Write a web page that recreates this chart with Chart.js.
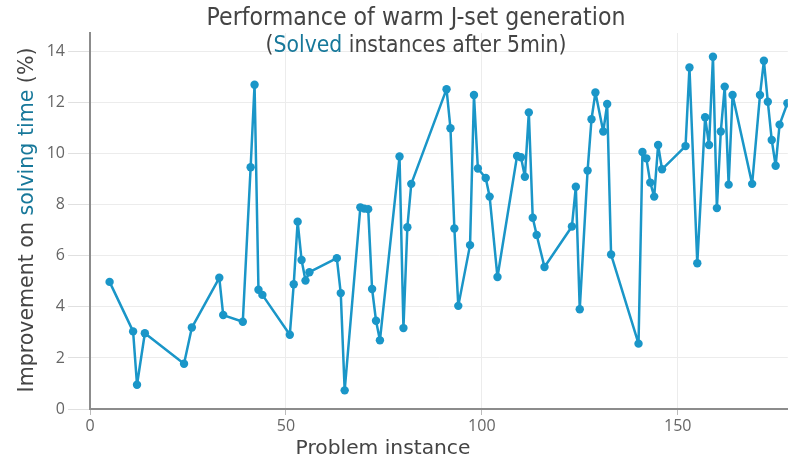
<!DOCTYPE html>
<html>
<head>
<meta charset="utf-8">
<script src="https://cdn.jsdelivr.net/npm/chart.js@4"></script>
<style>
  html, body { margin: 0; padding: 0; background: #fff; }
  #wrap { width: 792px; height: 458px; position: relative; }
</style>
</head>
<body>
<div id="wrap"><canvas id="warmChart" width="792" height="458"></canvas></div>
<script>
// Problem instance ids (x) and improvement on solving time in % (y)
const instanceIds = [5, 11, 12, 14, 24, 26, 33, 34, 39, 41, 42, 43, 44, 51, 52, 53, 54, 55, 56,
    63, 64, 65, 69, 70, 71, 72, 73, 74, 79, 80, 81, 82, 91, 92, 93, 94, 97, 98, 99, 101, 102,
    104, 109, 110, 111, 112, 113, 114, 116, 123, 124, 125, 127, 128, 129, 131, 132, 133, 140,
    141, 142, 143, 144, 145, 146, 152, 153, 155, 157, 158, 159, 160, 161, 162, 163, 164, 169,
    171, 172, 173, 174, 175, 176, 178];
const improvements = [4.98, 3.04, 0.95, 2.97, 1.77, 3.19, 5.14, 3.68, 3.42, 9.47, 12.7, 4.67, 4.47,
    2.91, 4.89, 7.34, 5.84, 5.03, 5.36, 5.91, 4.54, 0.73, 7.9, 7.85, 7.83, 4.70, 3.46, 2.69,
    9.89, 3.17, 7.12, 8.82, 12.53, 11.0, 7.07, 4.04, 6.42, 12.3, 9.42, 9.05, 8.32, 5.17, 9.91,
    9.86, 9.10, 11.62, 7.49, 6.82, 5.56, 7.15, 8.71, 3.91, 9.34, 11.35, 12.4, 10.87, 11.95, 6.05,
    2.56, 10.07, 9.82, 8.87, 8.32, 10.34, 9.39, 10.3, 13.38, 5.71, 11.43, 10.34, 13.8, 7.87,
    10.87, 12.63, 8.79, 12.3, 8.82, 12.3, 13.64, 12.04, 10.54, 9.53, 11.14, 11.98];
const xTickValues = [0, 50, 100, 150];
const yTickValues = [0, 2, 4, 6, 8, 10, 12, 14];

const TEXT_GREY = '#444';
const ACCENT = '#17789a';
const LINE_BLUE = '#1a96c8';

// Draw a run of coloured text pieces, fitted to a target width, centred on (cx, cy)
function drawRich(ctx, parts, cx, cy, targetWidth, family, angle) {
    const base = 20;
    ctx.save();
    ctx.font = `${base}px ${family}`;
    const natural = parts.reduce((w, p) => w + ctx.measureText(p[0]).width, 0);
    const size = base * targetWidth / natural;
    ctx.font = `${size}px ${family}`;
    const total = parts.reduce((w, p) => w + ctx.measureText(p[0]).width, 0);
    ctx.translate(cx, cy);
    if (angle) ctx.rotate(angle);
    ctx.textBaseline = 'middle';
    ctx.textAlign = 'left';
    let x = -total / 2;
    parts.forEach(([txt, col]) => {
        ctx.fillStyle = col;
        ctx.fillText(txt, x, 0);
        x += ctx.measureText(txt).width;
    });
    ctx.restore();
}

const titlesPlugin = {
    id: 'titles',
    afterDraw(chart) {
        const ctx = chart.ctx;
        const titleFont = "'Liberation Sans Narrow', 'DejaVu Sans Condensed', 'Roboto', sans-serif";
        drawRich(ctx, [['Performance of warm J-set generation', TEXT_GREY]], 416, 19, 419, titleFont);
        drawRich(ctx, [['(', TEXT_GREY], ['Solved', ACCENT], [' instances after 5min)', TEXT_GREY]],
            416, 46, 301, titleFont);
        drawRich(ctx, [['Improvement on ', TEXT_GREY], ['solving time', ACCENT], [' (%)', TEXT_GREY]],
            28, 220, 345, "'DejaVu Sans', sans-serif", -Math.PI / 2);
        drawRich(ctx, [['Problem instance', TEXT_GREY]], 383, 449, 175, "'DejaVu Sans', sans-serif");
    }
};

document.addEventListener('DOMContentLoaded', () => {
    const ctx = document.getElementById('warmChart');
    const points = instanceIds.map((id, i) => ({ x: id, y: improvements[i] }));

    new Chart(ctx, {
        type: 'line',
        data: {
            datasets: [{
                data: points,
                borderColor: LINE_BLUE,
                backgroundColor: LINE_BLUE,
                borderWidth: 2.5,
                borderJoinStyle: 'round',
                pointRadius: 4.2,
                pointBorderWidth: 0,
                pointBackgroundColor: LINE_BLUE,
                tension: 0,
                fill: false
            }]
        },
        options: {
            responsive: false,
            animation: false,
            layout: { padding: { left: 0, top: 33, right: 0, bottom: 0 } },
            plugins: {
                legend: { display: false },
                tooltip: { enabled: false },
                title: { display: false }
            },
            scales: {
                x: {
                    type: 'linear',
                    min: 0,
                    max: 178.1,
                    afterBuildTicks: (s) => { s.ticks = xTickValues.map(v => ({ value: v })); },
                    afterFit: (s) => { s.height = 49; },
                    border: { display: true, color: '#8c8c8c', width: 2 },
                    grid: { color: '#ececec', lineWidth: 1, tickLength: 6, tickColor: '#bbb' },
                    ticks: { color: '#666', padding: 2, maxRotation: 0,
                        font: { family: "'Open Sans', sans-serif", size: 16 } }
                },
                y: {
                    min: 0,
                    max: 14.73,
                    afterBuildTicks: (s) => { s.ticks = yTickValues.map(v => ({ value: v })); },
                    afterFit: (s) => { s.width = 90; },
                    border: { display: true, color: '#8c8c8c', width: 2 },
                    grid: { color: '#ececec', lineWidth: 1, tickLength: 22, tickColor: '#e0e0e0' },
                    ticks: { color: '#666', padding: 3,
                        font: { family: "'Open Sans', sans-serif", size: 16 } }
                }
            }
        },
        plugins: [titlesPlugin]
    });
});
</script>
</body>
</html>
